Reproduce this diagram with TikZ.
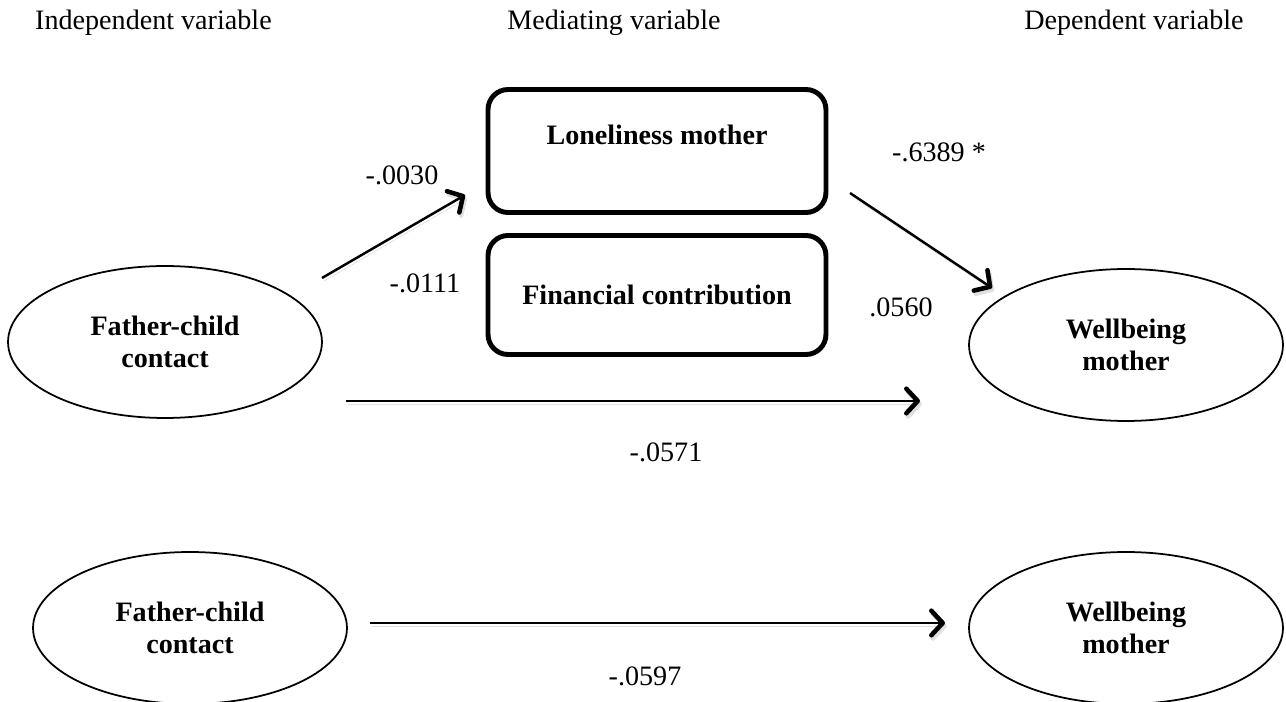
\documentclass[tikz,border=0pt]{standalone}
\usepackage{fontspec}
\setmainfont{Liberation Serif}
\usetikzlibrary{arrows.meta, shapes.geometric}

\begin{document}
\begin{tikzpicture}[x=0.02cm, y=-0.02cm,
    oval/.style={draw, ellipse, line width=1pt, minimum width=6.28cm, minimum height=3.04cm,
        align=center, font=\fontsize{16}{18}\selectfont\bfseries},
    medbox/.style={draw, rounded corners=0.4cm, line width=2.8pt, minimum width=6.76cm,
        align=center, font=\fontsize{16}{18}\selectfont\bfseries},
    coef/.style={font=\fontsize{16}{18}\selectfont},
    header/.style={font=\fontsize{16}{18}\selectfont},
    effect/.style={line width=1.4pt, -{Straight Barb[length=6.5pt, width=14pt, line width=2.6pt, round]},
        preaction={draw=black!12, transform canvas={xshift=1pt, yshift=-1.8pt}}}
]
    \useasboundingbox (0,0) rectangle (1286,702);

    % Column headers
    \node[header, anchor=west] (hind) at (29,23) {Independent variable};
    \node[header] (hmed) at (614,23) {Mediating variable};
    \node[header] (hdep) at (1134,23) {Dependent variable};

    % Mediation model
    \node[oval] (fcc) at (165,342) {Father-child\\contact};
    \node[oval] (wbm) at (1126,345) {Wellbeing\\mother};
    \node[medbox, minimum height=2.46cm] (lonely) at (657,151) {Loneliness mother\\\mbox{}};
    \node[medbox, minimum height=2.38cm] (fincon) at (657,295) {Financial contribution};

    \coordinate (aS) at (322,278);
    \coordinate (aE) at (465,195);
    \coordinate (bS) at (850,193);
    \coordinate (bE) at (992,288);
    \coordinate (cS) at (346,401);
    \coordinate (cE) at (920,401);

    \draw[effect] (aS) -- (aE);
    \draw[effect] (bS) -- (bE);
    \draw[effect] (cS) -- (cE);

    \node[coef] (ca) at (402,175) {-.0030};
    \node[coef] (cf) at (425,283) {-.0111};
    \node[coef] (cb) at (939,152) {-.6389 *};
    \node[coef] (cg) at (901,307) {.0560};
    \node[coef] (cc) at (666,452) {-.0571};

    % Total effect
    \node[oval] (fcctot) at (190,628) {Father-child\\contact};
    \node[oval] (wbmtot) at (1126,628) {Wellbeing\\mother};

    \coordinate (dS) at (370,623);
    \coordinate (dE) at (945,623);
    \draw[effect] (dS) -- (dE);

    \node[coef] (cd) at (645,676) {-.0597};

\end{tikzpicture}
\end{document}
